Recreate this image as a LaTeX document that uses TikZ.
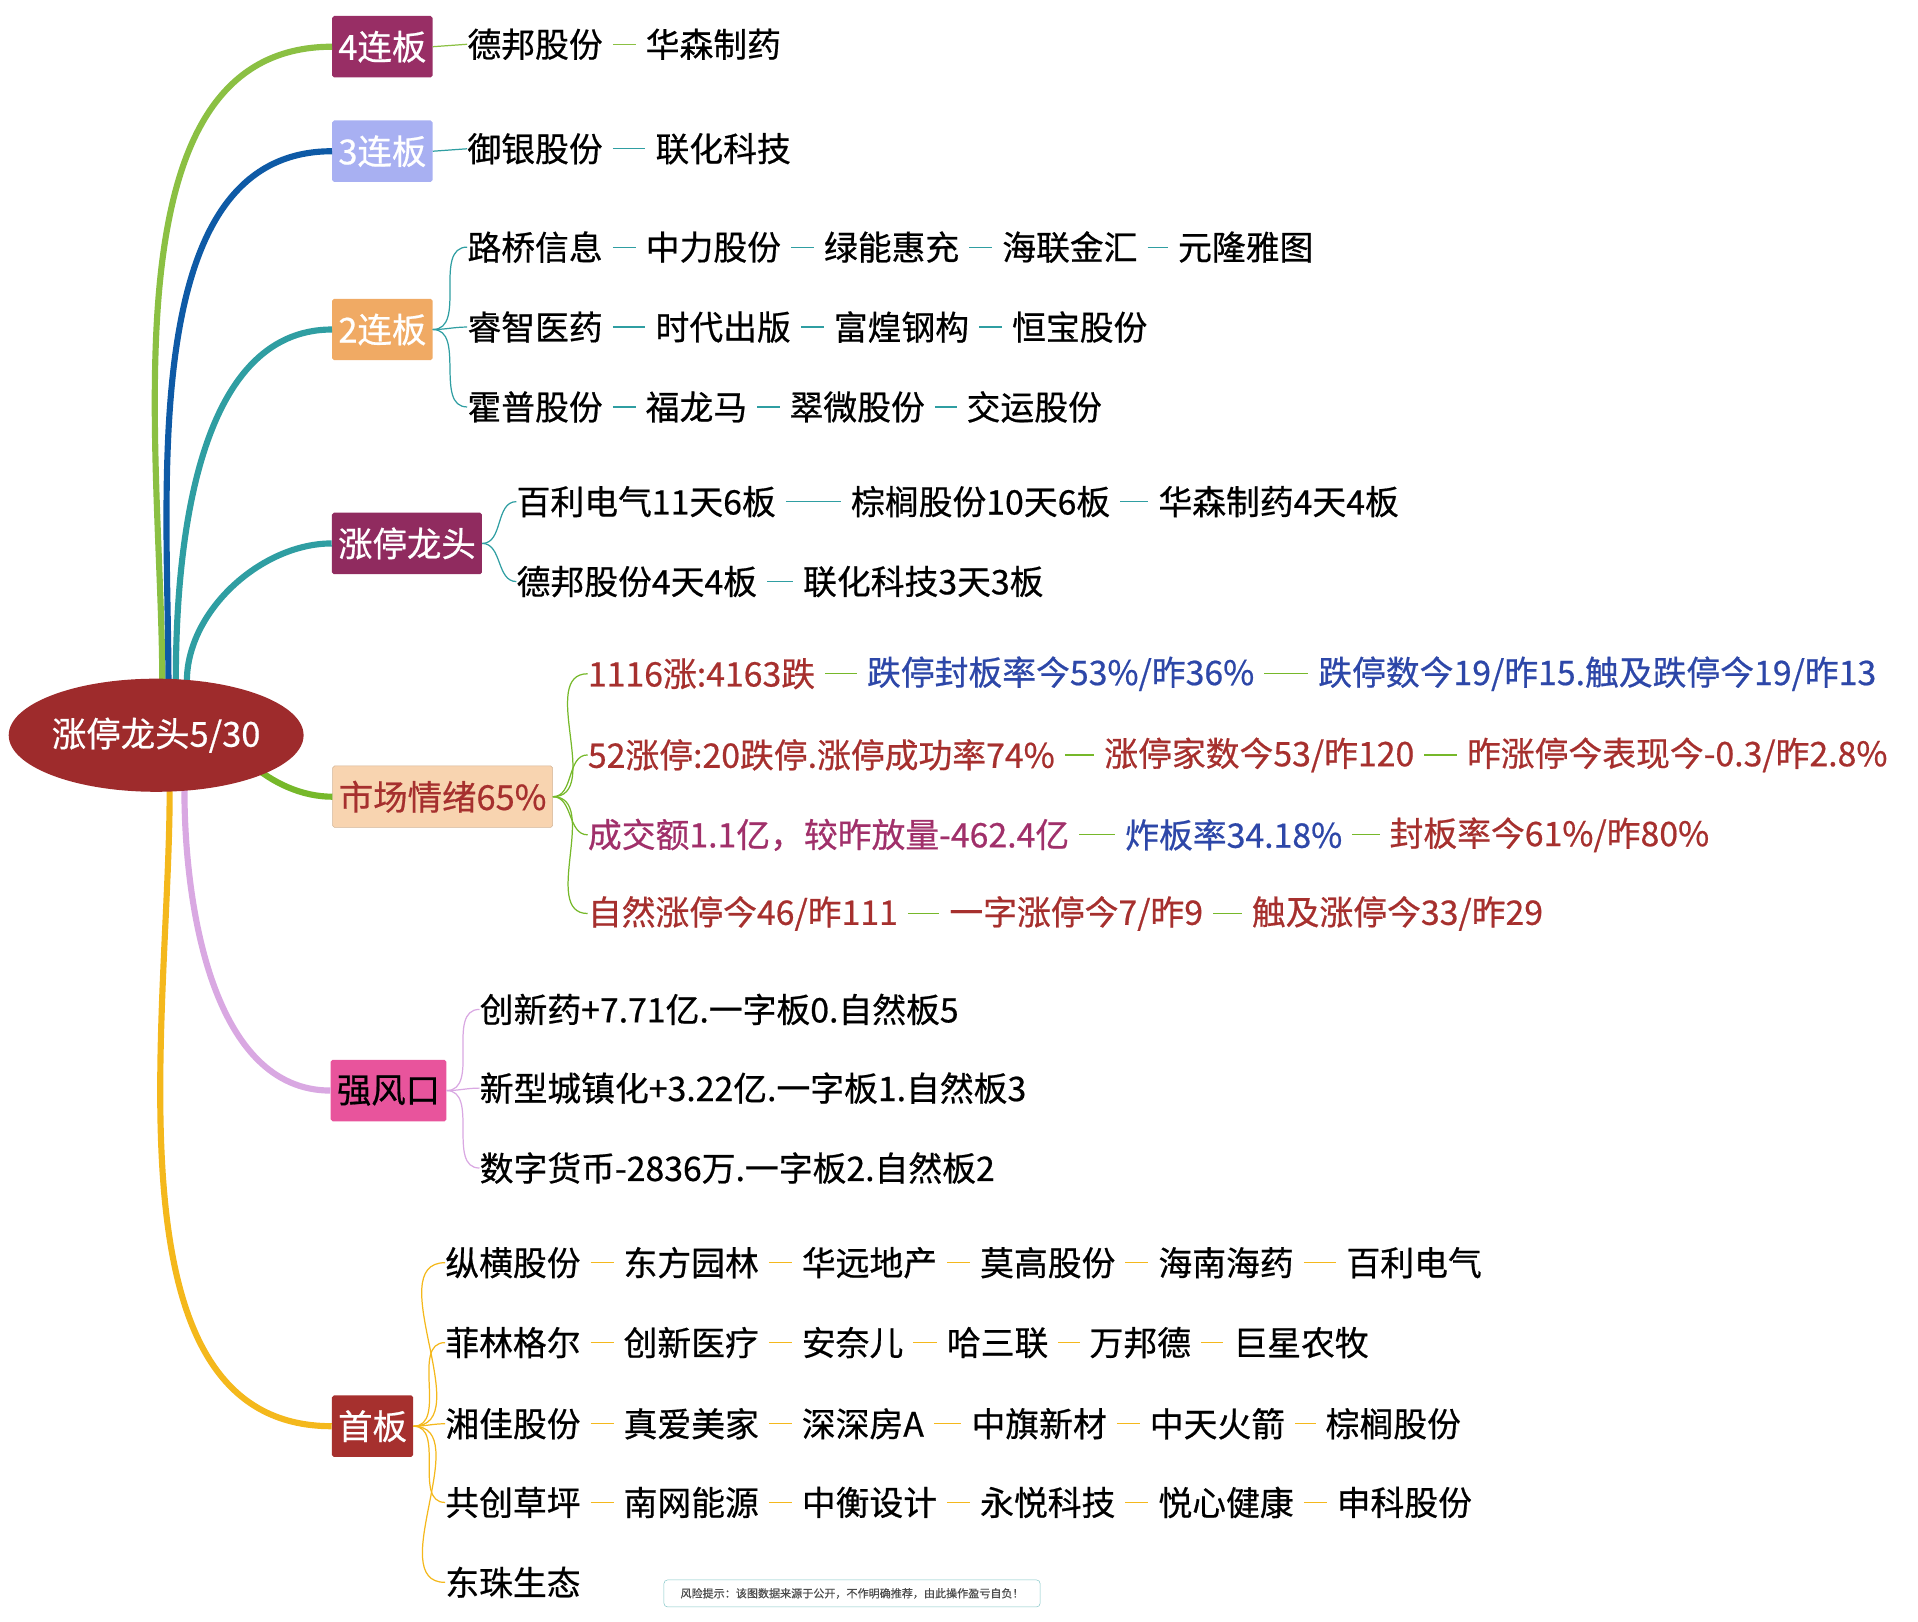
\documentclass[tikz,border=0pt]{standalone}
\usepackage{fontspec}
\setmainfont{Noto Sans CJK SC}[FakeBold=0.6]
\usetikzlibrary{shapes.geometric}
\definecolor{rootred}{HTML}{9E2B2C}
\definecolor{mred}{HTML}{A6302E}
\definecolor{mblue}{HTML}{2D47A8}
\definecolor{mpurple}{HTML}{A0306A}
\definecolor{cgreen}{HTML}{8BC043}
\definecolor{cblue}{HTML}{0E5AA6}
\definecolor{cteal}{HTML}{2F9EA2}
\definecolor{cgreen2}{HTML}{76B82A}
\definecolor{clilac}{HTML}{D9A8E2}
\definecolor{corange}{HTML}{F4B81C}
\definecolor{boxblue}{HTML}{A8B0F2}
\definecolor{boxorange}{HTML}{F0AA64}
\definecolor{boxpeach}{HTML}{F8D4B0}
\definecolor{boxpink}{HTML}{E8549C}
\tikzset{
  topic/.style={rectangle, rounded corners=1.5pt, minimum height=50pt, inner xsep=5pt,
    font=\fontsize{28}{32}\selectfont, text=white},
  leaf/.style={anchor=west, inner sep=0pt, font=\fontsize{27.5}{32}\selectfont},
  branch/.style={line width=5pt},
  twig/.style={line width=1pt}
}
% one row of leaves, joined by short dashes
\newcommand\leafrow[4]{%
  \foreach \x/\t [count=\i] in {#4} {
    \node[leaf] (#1-\i) at (\x,#2-2) {\t};
    \ifnum\i>1
      \pgfmathtruncatemacro\p{\i-1}
      \draw[#3, twig, shorten <=8pt, shorten >=8pt] (#1-\p.east) -- (#1-\i.west);
    \fi
  }}
\begin{document}
\begin{tikzpicture}[x=1pt,y=-1pt]
  \useasboundingbox (0,0) rectangle (1560,1319);

  % centre
  \coordinate (root) at (127,598);

  % topics
  \node[topic, fill=mpurple!95!black] (lb4) at (311,38) {4连板};
  \node[topic, fill=boxblue] (lb3) at (311,123) {3连板};
  \node[topic, fill=boxorange] (lb2) at (311,268) {2连板};
  \node[topic, fill=mpurple!90!black] (head) at (331,442) {涨停龙头};
  \node[topic, fill=boxpeach, text=mred, draw=boxpeach!85!black] (mood) at (360,648) {市场情绪65\%};
  \node[topic, fill=boxpink, text=black] (wind) at (316,887) {强风口};
  \node[topic, fill=mred] (first) at (303,1160) {首板};

  % main branches
  \coordinate (o1) at (132,556);
  \coordinate (o2) at (137,555);
  \coordinate (o3) at (143,554);
  \coordinate (o4) at (152,554);
  \coordinate (o5) at (165,555);
  \coordinate (o6) at (150,642);
  \coordinate (o7) at (138,643);
  \draw[branch, cgreen] (o1) to[out=90, in=180, looseness=0.9] (lb4.west);
  \draw[branch, cblue] (o2) to[out=90, in=180, looseness=0.9] (lb3.west);
  \draw[branch, cteal] (o3) to[out=90, in=180, looseness=0.9] (lb2.west);
  \draw[branch, cteal] (o4) to[out=90, in=180, looseness=0.9] (head.west);
  \draw[branch, cgreen2] (o5) to[out=-80, in=180, looseness=0.9] (mood.west);
  \draw[branch, clilac] (o6) to[out=-90, in=180, looseness=0.9] (wind.west);
  \draw[branch, corange] (o7) to[out=-90, in=180, looseness=0.9] (first.west);
  \node[ellipse, fill=rootred, text=white, minimum width=228pt, minimum height=92pt,
    inner sep=0pt, font=\fontsize{28}{32}\selectfont] (centre) at (root) {涨停龙头5/30};

  % 4连板, 3连板
  \leafrow{a}{38}{cgreen}{380/德邦股份, 525/华森制药}
  \draw[cgreen, twig] (lb4.east) -- (a-1.west);
  \leafrow{b}{123}{cteal}{380/御银股份, 533/联化科技}
  \draw[cteal, twig] (lb3.east) -- (b-1.west);

  % 2连板
  \leafrow{c}{203}{cteal}{380/路桥信息, 525/中力股份, 670/绿能惠充, 815/海联金汇, 958/元隆雅图}
  \leafrow{d}{268}{cteal}{380/睿智医药, 533/时代出版, 678/富煌钢构, 823/恒宝股份}
  \leafrow{e}{333}{cteal}{380/霍普股份, 525/福龙马, 642/翠微股份, 786/交运股份}
  \foreach \r in {c,d,e}
    \draw[cteal, twig] (lb2.east) to[out=0, in=180] (\r-1.west);

  % 涨停龙头
  \leafrow{f}{410}{cteal}{420/百利电气11天6板, 692/棕榈股份10天6板, 942/华森制药4天4板}
  \leafrow{g}{475}{cteal}{420/德邦股份4天4板, 653/联化科技3天3板}
  \foreach \r in {f,g}
    \draw[cteal, twig] (head.east) to[out=0, in=180] (\r-1.west);

  % 市场情绪
  \leafrow{h}{550}{cgreen2}{478/{\color{mred}1116涨:4163跌}, 705/{\color{mblue}跌停封板率今53\%/昨36\%}, 1072/{\color{mblue}跌停数今19/昨15.触及跌停今19/昨13}}
  \leafrow{i}{616}{cgreen2}{478/{\color{mred}52涨停:20跌停.涨停成功率74\%}, 898/{\color{mred}涨停家数今53/昨120}, 1193/{\color{mred}昨涨停今表现今-0.3/昨2.8\%}}
  \leafrow{j}{681}{cgreen2}{478/{\color{mpurple}成交额1.1亿，较昨放量-462.4亿}, 915/{\color{mblue}炸板率34.18\%}, 1130/{\color{mred}封板率今61\%/昨80\%}}
  \leafrow{k}{745}{cgreen2}{478/{\color{mred}自然涨停今46/昨111}, 772/{\color{mred}一字涨停今7/昨9}, 1018/{\color{mred}触及涨停今33/昨29}}
  \foreach \r in {h,i,j,k}
    \draw[cgreen2, twig] (mood.east) to[out=0, in=180] (\r-1.west);

  % 强风口
  \leafrow{l}{823}{clilac}{390/创新药+7.71亿.一字板0.自然板5}
  \leafrow{m}{887}{clilac}{390/新型城镇化+3.22亿.一字板1.自然板3}
  \leafrow{n}{952}{clilac}{390/数字货币-2836万.一字板2.自然板2}
  \foreach \r in {l,m,n}
    \draw[clilac, twig] (wind.east) to[out=0, in=180] (\r-1.west);

  % 首板
  \leafrow{p}{1029}{corange}{362/纵横股份, 507/东方园林, 652/华远地产, 797/莫高股份, 942/海南海药, 1095/百利电气}
  \leafrow{q}{1094}{corange}{362/菲林格尔, 507/创新医疗, 652/安奈儿, 770/哈三联, 886/万邦德, 1003/巨星农牧}
  \leafrow{s}{1160}{corange}{362/湘佳股份, 507/真爱美家, 652/深深房A, 790/中旗新材, 935/中天火箭, 1078/棕榈股份}
  \leafrow{t}{1224}{corange}{362/共创草坪, 507/南网能源, 652/中衡设计, 797/永悦科技, 942/悦心健康, 1087/申科股份}
  \leafrow{u}{1289}{corange}{362/东珠生态}
  \foreach \r in {p,q,s,t,u}
    \draw[corange, twig] (first.east) to[out=0, in=180] (\r-1.west);

  % risk note
  \node[draw=cteal!60, rounded corners=3pt, text=black!70,
    font=\fontsize{9}{11}\selectfont, minimum width=306pt, minimum height=22pt] (note) at (693,1296)
    {风险提示：该图数据来源于公开，不作明确推荐，由此操作盈亏自负！};
\end{tikzpicture}
\end{document}
